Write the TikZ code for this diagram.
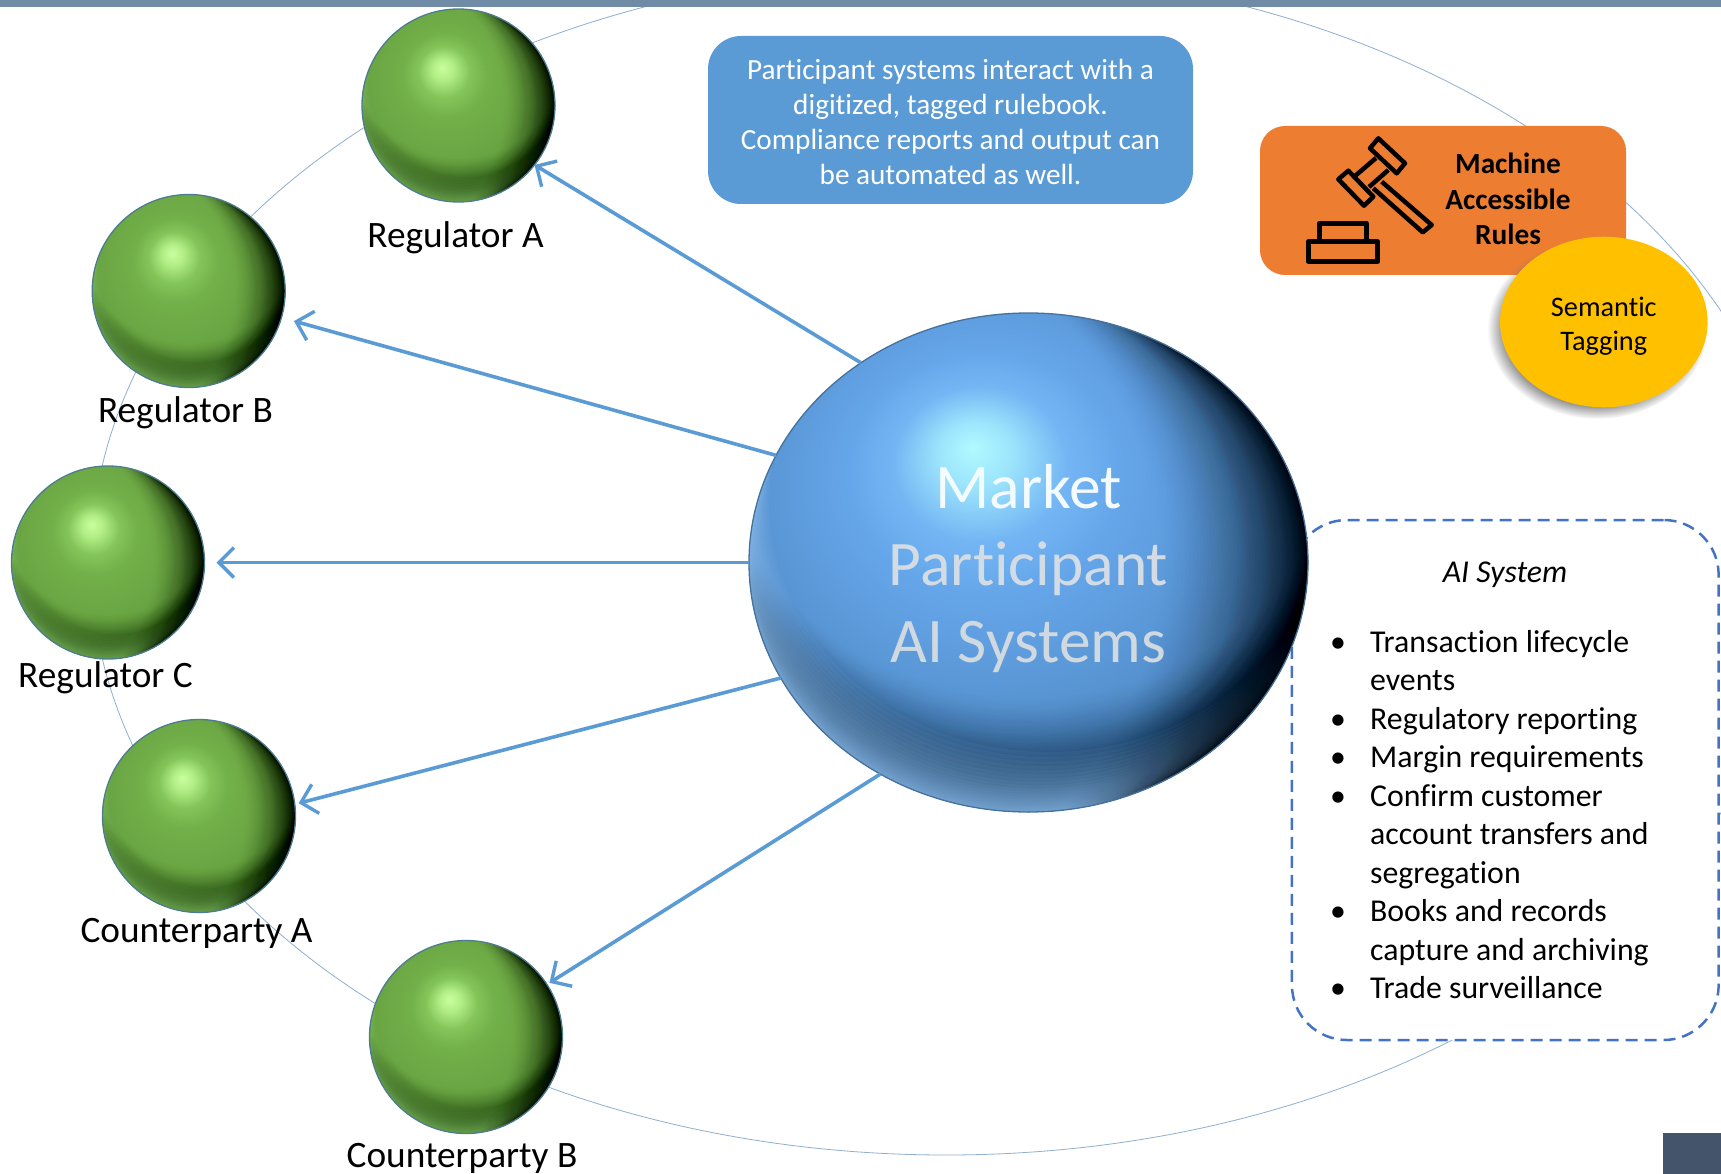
\documentclass[tikz,border=0pt]{standalone}
\usepackage{fontspec}
\setmainfont{Carlito}[Ligatures=NoCommon]
\usetikzlibrary{arrows.meta,shapes.geometric,shadows}
\definecolor{arrowblue}{HTML}{5B9BD5}
\definecolor{orbitline}{HTML}{8FAFD0}
\definecolor{topband}{HTML}{6F8BA6}
\definecolor{cornerbox}{HTML}{44546A}
\definecolor{dashblue}{HTML}{4472C4}
\definecolor{ruleorange}{HTML}{ED7D31}
\definecolor{tagyellow}{HTML}{FFC000}
\definecolor{gdark}{HTML}{1E3A14}
\definecolor{glight}{HTML}{7DB85A}
\definecolor{bdark}{HTML}{13283C}
\definecolor{blight}{HTML}{8FC0F0}
\definecolor{grim}{HTML}{4D7C90}
\definecolor{brim}{HTML}{45719A}
\definecolor{ga}{HTML}{C8FF9E}\definecolor{gb}{HTML}{B2EE86}\definecolor{gc}{HTML}{84C55A}
\definecolor{gd}{HTML}{72B049}\definecolor{ge}{HTML}{6BA644}\definecolor{gf}{HTML}{5E9A3E}
\definecolor{ba}{HTML}{B0FAFF}\definecolor{bb}{HTML}{9CE4FC}\definecolor{bc}{HTML}{74B6F4}
\definecolor{bd}{HTML}{65A6EA}\definecolor{be}{HTML}{5A97D6}\definecolor{bf}{HTML}{5088C2}
\pgfdeclareradialshading{greenball}{\pgfpoint{-3.9bp}{9bp}}{%
 color(0bp)=(ga);color(2.5bp)=(gb);color(6bp)=(gc);color(10bp)=(gd);color(18bp)=(ge);color(25bp)=(gf);color(50bp)=(gf)}
\pgfdeclareradialshading{blueball}{\pgfpoint{-4.6bp}{10.5bp}}{%
 color(0bp)=(ba);color(3bp)=(bb);color(7bp)=(bc);color(11bp)=(bd);color(18bp)=(be);color(25bp)=(bf);color(50bp)=(bf)}
\newcommand\spherebody[5]{%
 \begin{scope}[shift={(path picture bounding box.center)},x=#1pt,y=#2pt]
  \shade[shading=#3] (-1.1,-1.1) rectangle (1.1,1.1);
  \foreach \i in {1,...,40}{
   \pgfmathsetmacro\d{0.12+0.45*\i/40}
   \pgfmathsetmacro\r{1+0.2*\d}
   \pgfmathsetmacro\o{0.004+0.055*(1-\i/40)}
   \fill[#4,opacity=\o,even odd rule] (-1.5,-1.5) rectangle (1.5,1.5) (0,{\d}) circle [radius=\r];}
  \foreach \i in {1,...,24}{
   \pgfmathsetmacro\d{0.24*(\i/24)^2}
   \fill[#5,opacity=.075,even odd rule] (-1.5,-1.5) rectangle (1.5,1.5) ({0.3*\d},{\d}) circle [radius=1];}
  \foreach \i in {1,...,60}{
   \pgfmathsetmacro\d{1.05*(\i/60)^1.7}
   \pgfmathsetmacro\r{1+0.5*\d}
   \pgfmathsetmacro\o{0.004+0.055*(1-\i/60)}
   \fill[black,opacity=\o,even odd rule] (-2,-2) rectangle (2,2) ({-\d},0) circle [radius=\r];}
 \end{scope}}
\tikzset{
 greenball/.style={shape=ellipse,inner sep=0pt,outer sep=0pt,minimum width=193pt,minimum height=193pt,
  draw=grim,line width=1.3pt,path picture={\spherebody{96.5}{96.5}{greenball}{gdark}{glight}}},
 bigball/.style={shape=ellipse,inner sep=0pt,outer sep=0pt,minimum width=559pt,minimum height=499pt,
  draw=brim,line width=1.3pt,path picture={\spherebody{279.5}{249.5}{blueball}{bdark}{blight}}},
 ballname/.style={font=\fontsize{37.3}{44}\selectfont,text=black,inner sep=0pt},
 flow/.style={draw=arrowblue,line width=3.6pt,-{Straight Barb[length=15pt,width=30pt,line width=3.4pt]}},
 callout/.style={fill=arrowblue,rounded corners=33pt,minimum width=485pt,minimum height=168pt,inner sep=0pt},
 callouttext/.style={text=white,align=center,inner sep=0pt,font=\fontsize{29.2}{35}\selectfont},
 rulesbox/.style={fill=ruleorange,rounded corners=25pt,minimum width=366pt,minimum height=149pt,inner sep=0pt},
 gavel/.style={draw=black,line width=4.5pt,line join=round},
 tagcircle/.style={shape=ellipse,fill=tagyellow,inner sep=0pt,minimum width=207.6pt,minimum height=170.6pt,
  circular drop shadow={shadow xshift=-6pt,shadow yshift=-6pt,shadow scale=1.06,opacity=.85}},
 tagtext/.style={align=center,inner sep=0pt,font=\fontsize{28.3}{34}\selectfont},
 listbox/.style={draw=dashblue,fill=white,line width=2.5pt,dash pattern=on 12pt off 7pt,rounded corners=55pt,
  minimum width=426.7pt,minimum height=520pt,inner sep=0pt},
}
\begin{document}
\begin{tikzpicture}[x=1pt,y=-1pt]
\useasboundingbox (0,0) rectangle (1721,1174);
\clip (0,0) rectangle (1721,1174);
\fill[white] (0,0) rectangle (1721,1174);
% orbit
\draw[orbitline,line width=0.8pt] (946,562) ellipse [x radius=855,y radius=593];
\fill[topband] (0,0) rectangle (1721,7);
\fill[cornerbox] (1663,1133) rectangle (1721,1174);
% boxes
\node[listbox] (list) at (1505.3,780) {};
\node[callout] (note) at (950.5,120) {};
\node[callouttext] (notetext) at (950.5,121.5) {Participant systems interact with a\\digitized, tagged rulebook.\\Compliance reports and output can\\be automated as well.};
\node[rulesbox] (rules) at (1443,200.5) {};
\node[font=\fontsize{29.3}{35.5}\selectfont\bfseries,align=center,inner sep=0pt] (rulestext) at (1508,199) {Machine\\Accessible\\Rules};
% gavel icon
\draw[gavel] (1378.3,138.3) -- (1405,163.3) -- (1396.7,173.3) -- (1370,148.3) -- cycle;
\draw[gavel] (1348.3,170.7) -- (1373.3,196.7) -- (1364,205.7) -- (1338.3,179.3) -- cycle;
\draw[gavel] (1376,158) -- (1355,176) (1369,187) -- (1388.3,170);
\draw[gavel] (1381.7,181.7) -- (1431.7,225) -- (1422.7,232.3) -- (1373.3,188.3);
\draw[gavel] (1319.3,241.7) -- (1319.3,223.3) -- (1366.7,223.3) -- (1366.7,241.7);
\draw[gavel] (1308.3,241.7) rectangle (1377.7,261.7);
\node[tagcircle] (tag) at (1603.8,322) {};
\node[tagtext] (tagtxt) at (1603.8,326) {Semantic\\Tagging};
% spheres
\node[bigball] (big) at (1028.5,562.5) {};
\node[greenball] (rega) at (458.5,105.5) {};
\node[greenball] (regb) at (188.7,291) {};
\node[greenball] (regc) at (108,562.5) {};
\node[greenball] (cpa) at (199,816) {};
\node[greenball] (cpb) at (466,1037) {};
% labels
\node[ballname] (la) at (455.5,238) {Regulator A};
\node[ballname] (lb) at (185.5,413) {Regulator B};
\node[ballname] (lc) at (105.5,678) {Regulator C};
\node[ballname] (lpa) at (196.5,933) {Counterparty A};
\node[ballname] (lpb) at (462,1158.5) {Counterparty B};
\node[inner sep=0pt,align=center,font=\fontsize{63.5}{77}\selectfont] (bigtext) at (1028.5,569)
 {\textcolor[HTML]{F4FBFF}{Market}\\\textcolor[HTML]{D3DCE4}{Participant}\\\textcolor[HTML]{D0D8E0}{AI Systems}};
% connectors
\draw[flow] (big.130.1) -- (rega.-38.4);
\draw[flow,shorten >=13pt] (big.157.5) -- (regb.-16.2);
\draw[flow,shorten >=12pt] (big.180) -- (regc.0);
\draw[flow,shorten >=4pt] (big.205.5) -- (cpa.7.8);
\draw[flow,shorten >=3pt] (big.235.3) -- (cpb.33.4);
% list
\node[inner sep=0pt,font=\fontsize{31.8}{33}\selectfont\itshape] (listtitle) at (1505,575) {AI System};
\node[anchor=base west,inner sep=0pt,font=\fontsize{31.8}{38.45}\selectfont] (listbody) at (1330,652.5)
{\setlength{\tabcolsep}{0pt}\begin{tabular}[t]{@{}p{40pt}@{}l@{}}
•&Transaction lifecycle\\
&events\\
•&Regulatory reporting\\
•&Margin requirements\\
•&Confirm customer\\
&account transfers and\\
&segregation\\
•&Books and records\\
&capture and archiving\\
•&Trade surveillance
\end{tabular}};
\end{tikzpicture}
\end{document}
